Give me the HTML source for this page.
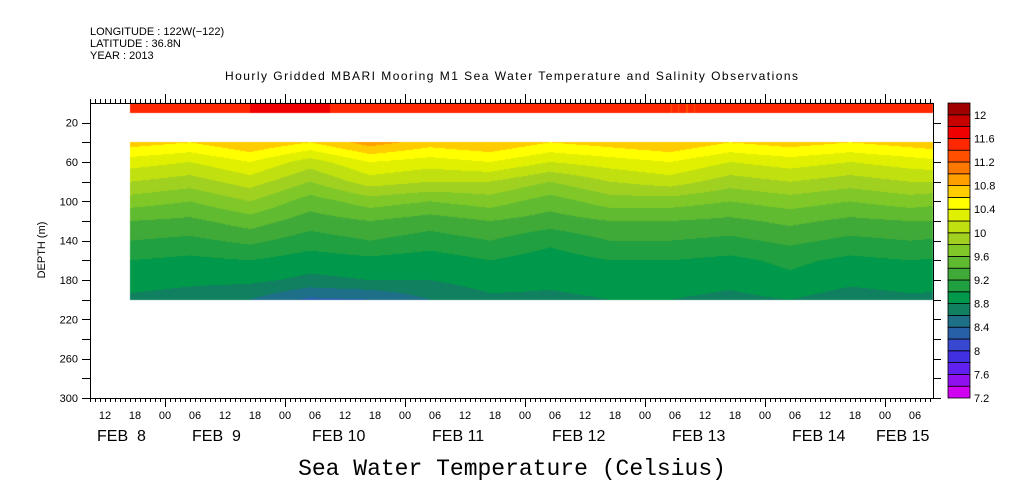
<!DOCTYPE html>
<html><head><meta charset="utf-8"><style>
html,body{margin:0;padding:0;background:#fff;width:1009px;height:504px;overflow:hidden;position:relative}
svg{position:absolute;left:0;top:0}
canvas{position:absolute;left:0;top:0}
text{font-family:"Liberation Sans",sans-serif;fill:#000}
</style></head><body>
<canvas id="field" width="1009" height="504"></canvas>
<svg id="chart" width="1009" height="504">
<text x="90" y="35" font-size="11">LONGITUDE : 122W(−122)</text>
<text x="90" y="47" font-size="11">LATITUDE : 36.8N</text>
<text x="90" y="59" font-size="11">YEAR : 2013</text>
<text x="225" y="80" font-size="12" textLength="573">Hourly Gridded MBARI Mooring M1 Sea Water Temperature and Salinity Observations</text>
<text x="512" y="475" font-size="23" text-anchor="middle" style="font-family:'Liberation Mono',monospace">Sea Water Temperature (Celsius)</text>
<text transform="translate(45,250) rotate(-90)" font-size="11" text-anchor="middle">DEPTH (m)</text>
<g id="axes"></g>
<g id="cbar"></g>
</svg>
<script>
// time columns: hours since Feb 8 00:00
const times=[17,29,41,53,65,77,89,101,113,125,137,149,161,173,185];
const depths=[40,60,80,100,120,140,160,180,200];
const temps=[
[10.7,10.6,10.8,10.6,10.9,10.7,10.8,10.6,10.7,10.8,10.6,10.7,10.6,10.7,10.8],
[10.3,10.2,10.4,10.1,10.4,10.3,10.4,10.2,10.3,10.4,10.2,10.3,10.2,10.3,10.4],
[10.0,9.9,10.1,9.8,10.1,10.0,10.0,9.8,10.0,10.1,9.9,10.0,9.9,10.0,10.0],
[9.7,9.6,9.8,9.5,9.7,9.6,9.7,9.5,9.7,9.7,9.6,9.7,9.6,9.7,9.6],
[9.4,9.35,9.5,9.3,9.4,9.3,9.4,9.3,9.4,9.4,9.35,9.45,9.35,9.4,9.4],
[9.2,9.15,9.25,9.1,9.2,9.1,9.2,9.05,9.2,9.2,9.15,9.25,9.15,9.2,9.15],
[9.0,8.95,9.0,8.9,8.95,8.9,9.0,8.9,9.0,9.0,8.95,9.05,8.95,9.0,8.95],
[8.9,8.85,8.85,8.75,8.8,8.8,8.9,8.85,8.9,8.9,8.85,8.95,8.85,8.9,8.85],
[8.75,8.7,8.6,8.35,8.4,8.6,8.75,8.75,8.8,8.8,8.75,8.8,8.7,8.75,8.75]];
const surfaceTemps=[11.5,11.4,11.6,11.65,11.5,11.6,11.5,11.6,11.5,11.4,11.4,11.5,11.4,11.5,11.4];
const levelColors=["#d000f0","#9010f0","#6020f0","#4030e0","#3848d0","#2860a8","#1e7088","#108060","#00984a","#20a040","#40aa38","#60bb30","#80c828","#a0d020","#c0e010","#e0f000","#ffff00","#ffcc00","#ffa000","#ff7800","#ff5000","#ff2800","#f00000","#c80000","#a00000"];
const cbarLabels=["7.2","7.6","8","8.4","8.8","9.2","9.6","10","10.4","10.8","11.2","11.6","12"];
const depthTicks=[20,60,100,140,180,220,260,300];
const dateLabels=["FEB  8","FEB  9","FEB 10","FEB 11","FEB 12","FEB 13","FEB 14","FEB 15"];

const X0=90,X1=933,Y0=103,Y1=398,H0=9,PXH=5;
const xs=h=>X0+(h-H0)*PXH;
const ys=d=>Y0+d*(Y1-Y0)/300;
const hOf=x=>(x-X0)/PXH+H0;
const vmin=7.2,step=0.2;
function col(v){let i=Math.floor((v-vmin)/step);i=Math.max(0,Math.min(levelColors.length-1,i));return levelColors[i];}
function tInterp(arr,h){let n=arr.length;if(h<=times[0])return arr[0];if(h>=times[n-1])return arr[n-1];
 for(let i=0;i<n-1;i++)if(h<=times[i+1]){let f=(h-times[i])/(times[i+1]-times[i]);return arr[i]*(1-f)+arr[i+1]*f;}}
const cv=document.getElementById('field').getContext('2d');
const xStart=Math.round(xs(times[0]));
const yS0=Math.round(ys(0)),yS1=Math.round(ys(10)),yD0=Math.round(ys(40)),yD1=Math.round(ys(200));
for(let x=xStart;x<X1;x++){
 const h=hOf(x+0.5);
 cv.fillStyle=col(tInterp(surfaceTemps,h));cv.fillRect(x,yS0,1,yS1-yS0);
 const prof=temps.map(r=>tInterp(r,h));
 for(let y=yD0;y<yD1;y++){
  const d=(y+0.5-Y0)*300/(Y1-Y0);
  let k=Math.min(depths.length-2,Math.max(0,Math.floor((d-40)/20)));
  let f=Math.max(0,Math.min(1,(d-depths[k])/(depths[k+1]-depths[k])));
  cv.fillStyle=col(prof[k]*(1-f)+prof[k+1]*f);
  cv.fillRect(x,y,1,1);
 }
}
const NS='http://www.w3.org/2000/svg';
function mk(tag,at,parent){const e=document.createElementNS(NS,tag);for(const k in at)e.setAttribute(k,at[k]);parent.appendChild(e);return e;}
const ax=document.getElementById('axes');
let frame=mk('rect',{x:X0+0.5,y:Y0+0.5,width:X1-X0,height:Y1-Y0,fill:'none',stroke:'#000','stroke-width':1},ax);


for(let d=20;d<=300;d+=20){
 const y=Math.round(ys(d))+0.5;
 mk('line',{x1:X0-8,x2:X0,y1:y,y2:y,stroke:'#000'},ax);
 mk('line',{x1:X1,x2:X1+8,y1:y,y2:y,stroke:'#000'},ax);
}
depthTicks.forEach(d=>{
 const t=mk('text',{x:X0-12,y:ys(d)+4,'font-size':11,'text-anchor':'end'},ax);t.textContent=d;
 
 
});
for(let h=Math.ceil(hOf(X0));h<=hOf(X1);h++){
 const x=Math.round(xs(h))+0.5,major=h%24===0;
 mk('line',{x1:x,x2:x,y1:Y0,y2:Y0-(major?9:4),stroke:'#000'},ax);
 mk('line',{x1:x,x2:x,y1:Y1,y2:Y1+(major?9:4),stroke:'#000'},ax);
 if(h%6===0){const t=mk('text',{x:xs(h),y:419,'font-size':11,'text-anchor':'middle'},ax);
  t.textContent=String(h%24).padStart(2,'0');
  
  }
}
dateLabels.forEach((s,i)=>{
 const x=i===0?97:(i===7?876:xs(24*i+12)-33);
 const t=mk('text',{x:x,y:441,'font-size':16},ax);
 t.setAttribute('style','white-space:pre');t.textContent=s;
 
 
});
const cb=document.getElementById('cbar');const CX=948,CW=22,bh=(Y1-Y0)/levelColors.length;
levelColors.forEach((c,i)=>{
 const r=mk('rect',{x:CX,y:Y1-(i+1)*bh,width:CW,height:bh,fill:c,stroke:'#000','stroke-width':0.8},cb);
 
 
});
cbarLabels.forEach((s,i)=>{
 const t=mk('text',{x:CX+CW+4,y:Y1-i*2*bh+4,'font-size':11},cb);t.textContent=s;
 
 
});
</script>
</body></html>
